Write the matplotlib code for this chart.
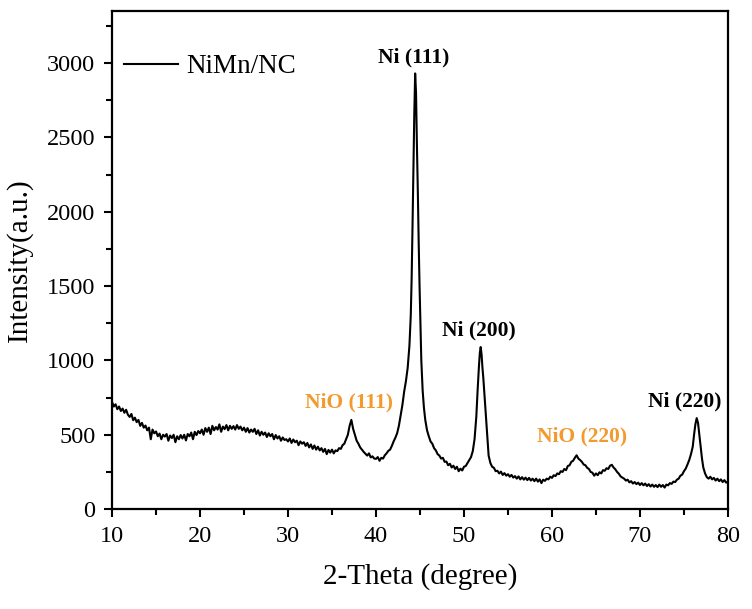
import numpy as np
import matplotlib
matplotlib.use("Agg")
import matplotlib.pyplot as plt
from matplotlib.ticker import MultipleLocator

plt.rcParams['font.family'] = ['Liberation Serif', 'DejaVu Serif']

# XRD pattern of NiMn/NC
# 10.0 - 42.2 deg, 0.2 deg step
y_a = [720, 690, 705, 672, 690, 660, 676, 648, 668, 635,
       620, 640, 598, 615, 585, 600, 560, 580, 548, 562,
       530, 548, 470, 535, 510, 522, 490, 508, 470, 500,
       488, 505, 460, 495, 478, 500, 450, 490, 470, 498,
       475, 500, 462, 505, 490, 515, 470, 520, 498, 525,
       510, 535, 500, 545, 520, 548, 505, 560, 530, 552,
       535, 570, 520, 555, 538, 565, 530, 560, 540, 558,
       535, 565, 540, 555, 530, 548, 520, 545, 515, 535,
       520, 540, 505, 530, 495, 520, 500, 515, 485, 510,
       490, 505, 470, 498, 475, 490, 460, 482, 465, 470,
       455, 475, 445, 468, 450, 460, 430, 455, 440, 450,
       425, 445, 415, 435, 405, 428, 400, 420, 395, 410,
       385, 405, 370, 398, 380, 400, 375, 395, 390, 410,
       405, 430, 440, 470, 500, 560, 600, 540, 500, 460,
       440, 415, 400, 385, 372, 360, 375, 348, 355, 340,
       338, 350, 325, 345, 340, 362, 375, 392, 400, 425,
       455, 480]

# Ni (111) peak
x_b = [42.4, 42.6, 42.8, 43.0, 43.2, 43.4, 43.6, 43.8, 43.95, 44.05,
       44.15, 44.25, 44.35, 44.45, 44.55, 44.65, 44.75, 44.85, 44.95, 45.05,
       45.15, 45.3, 45.45, 45.6, 45.8, 46.0, 46.2]
y_b = [510, 560, 630, 700, 790, 860, 950, 1100, 1300, 1550,
       1900, 2300, 2650, 2930, 2800, 2450, 2150, 1800, 1500, 1250,
       1000, 800, 680, 600, 530, 490, 455]

# 46.4 - 51.0 deg, 0.2 deg step
y_c = [440, 410, 395, 370, 360, 340, 345, 318, 320, 295,
       305, 280, 292, 270, 285, 255, 272, 260, 285, 290,
       310, 330, 350, 390]

# Ni (200) peak
x_d = [51.2, 51.4, 51.55, 51.7, 51.8, 51.9, 52.0, 52.1, 52.2, 52.35,
       52.5, 52.65, 52.8]
y_d = [470, 620, 800, 960, 1050, 1090, 1040, 950, 880, 750,
       620, 480, 360]

# 53.0 - 76.0 deg, 0.2 deg step
y_e = [310, 285, 278, 255, 258, 240, 252, 230, 242, 225,
       235, 218, 230, 212, 222, 205, 220, 200, 215, 198,
       212, 195, 210, 192, 205, 188, 205, 185, 200, 175,
       198, 190, 205, 200, 218, 210, 228, 222, 240, 235,
       255, 250, 270, 262, 290, 295, 318, 325, 345, 362,
       340, 330, 318, 300, 295, 278, 270, 250, 245, 225,
       240, 228, 248, 240, 262, 258, 275, 270, 292, 298,
       280, 268, 250, 238, 220, 212, 205, 192, 198, 180,
       188, 172, 182, 168, 178, 162, 175, 160, 172, 155,
       168, 152, 165, 150, 162, 148, 165, 150, 162, 145,
       165, 160, 175, 170, 185, 182, 198, 205, 225, 232,
       255, 272, 300, 330, 370, 420]

# Ni (220) peak
x_f = [76.15, 76.3, 76.45, 76.6, 76.75, 76.9, 77.05, 77.2, 77.4]
y_f = [500, 570, 612, 580, 500, 420, 340, 280, 240]

# 77.6 - 80.0 deg, 0.2 deg step
y_g = [215, 205, 218, 200, 210, 192, 205, 188, 200, 182,
       195, 178, 185]

peak_labels = ["NiO (111)", "Ni (111)", "Ni (200)", "NiO (220)", "Ni (220)"]
label_x = [36.9, 44.3, 51.7, 63.4, 75.1]
label_y = [720, 3040, 1200, 490, 726]
label_colors = ["#F39A2E", "black", "black", "#F39A2E", "black"]

two_theta = np.concatenate([
    np.linspace(10.0, 42.2, len(y_a)), x_b,
    np.linspace(46.4, 51.0, len(y_c)), x_d,
    np.linspace(53.0, 76.0, len(y_e)), x_f,
    np.linspace(77.6, 80.0, len(y_g)),
])
intensity = np.concatenate([y_a, y_b, y_c, y_d, y_e, y_f, y_g])

fig = plt.figure(figsize=(7.52, 6.09), dpi=100)
ax = fig.add_axes([0.149, 0.164, 0.819, 0.818])

ax.plot(two_theta, intensity, color="black", linewidth=1.5, label="NiMn/NC")

for txt, lx, ly, c in zip(peak_labels, label_x, label_y, label_colors):
    ax.text(lx, ly, txt, color=c, fontsize=15.5, fontweight="bold",
            ha="center", va="center")

ax.set_xlim(10, 80)
ax.set_ylim(0, 3350)
ax.xaxis.set_major_locator(MultipleLocator(10))
ax.xaxis.set_minor_locator(MultipleLocator(5))
ax.yaxis.set_major_locator(MultipleLocator(500))
ax.yaxis.set_minor_locator(MultipleLocator(250))
ax.tick_params(which="major", direction="out", length=6, width=1.5,
               labelsize=17.5, pad=6)
ax.tick_params(which="minor", direction="out", length=4, width=1.5)
for s in ax.spines.values():
    s.set_linewidth(1.6)

ax.set_xlabel("2-Theta (degree)", fontsize=21, labelpad=12)
ax.set_ylabel("Intensity(a.u.)", fontsize=21, labelpad=10)

ax.legend(loc="upper left", bbox_to_anchor=(-0.02, 0.962), frameon=False,
          fontsize=19.5, handlelength=2.0, handletextpad=0.3)

fig.savefig("out.png", dpi=100)
